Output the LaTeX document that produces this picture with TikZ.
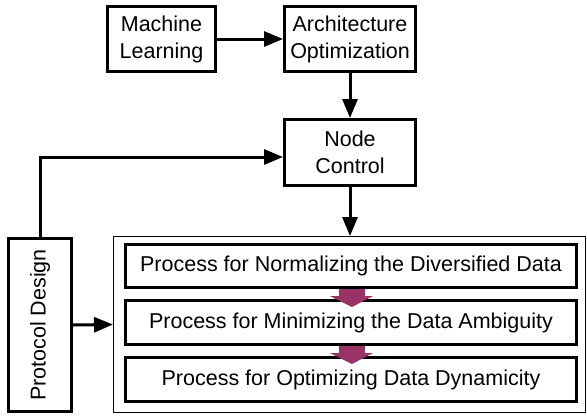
\documentclass[tikz,border=0pt]{standalone}
\usepackage{fontspec}
\setmainfont{Liberation Sans}
\usetikzlibrary{arrows.meta}
\definecolor{procpurple}{RGB}{153,51,102}
\begin{document}
\begin{tikzpicture}[x=1pt,y=-1pt,
  box/.style={draw,line width=3pt,inner sep=0pt,align=center,
    font=\fontsize{21.5}{27}\selectfont},
  conn/.style={line width=3pt,-{Triangle[length=19pt,width=15pt]}},
  blockarrow/.style={fill=procpurple}]
\useasboundingbox (0,0) rectangle (587,416);
\node[box,minimum width=108pt,minimum height=65pt] (ml) at (161.5,39) {Machine\\Learning};
\node[box,minimum width=131pt,minimum height=65pt] (ao) at (350,39) {Architecture\\Optimization};
\node[box,minimum width=131pt,minimum height=66pt] (nc) at (350,152.5) {Node\\Control};
\node[box,minimum width=63pt,minimum height=173pt] (pd) at (40,325) {\rotatebox{90}{Protocol Design}};
\node[draw,line width=1pt,minimum width=472pt,minimum height=176pt,inner sep=0pt] (outer) at (349.5,324.5) {};
\node[box,minimum width=451pt,minimum height=43pt] (p1) at (351,266) {Process for Normalizing the Diversified Data};
\node[box,minimum width=451pt,minimum height=44pt] (p2) at (351,322.5) {Process for Minimizing the Data Ambiguity};
\node[box,minimum width=451pt,minimum height=44pt] (p3) at (351,379.5) {Process for Optimizing Data Dynamicity};
\foreach \y in {289,346}{
  \fill[blockarrow] (339,\y) -- (365,\y) -- (365,\y+7) -- (373,\y+7) -- (352,\y+18) -- (330,\y+7) -- (339,\y+7) -- cycle;
}
\draw[conn] (ml) -- (ao);
\draw[conn] (ao) -- (nc);
\draw[conn] (nc.south) -- (nc.south |- outer.north);
\draw[conn] (pd.north) |- ([yshift=-4.5pt]nc.west);
\draw[conn] (pd.east) -- (outer.west);
\end{tikzpicture}
\end{document}
